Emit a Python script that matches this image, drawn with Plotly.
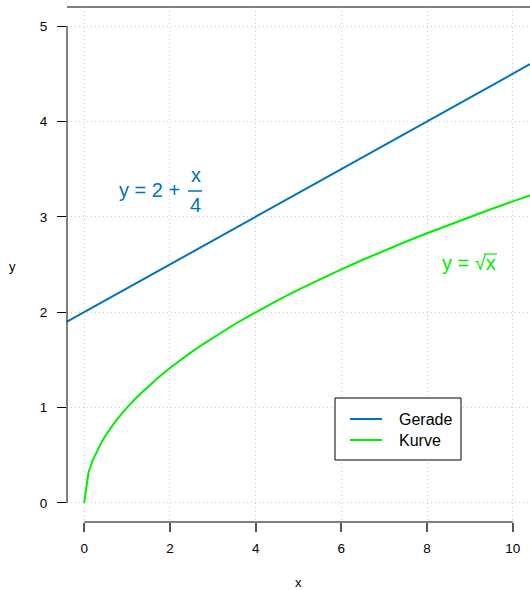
import plotly.graph_objects as go

# Data
line_x = [-0.4, 10.4]
line_y = [1.9, 4.6]

curve_x = [0, 0.1, 0.2, 0.3, 0.4, 0.5, 0.6, 0.7, 0.8, 0.9, 1, 1.25, 1.5, 1.75, 2, 2.25,
           2.5, 2.75, 3, 3.25, 3.5, 3.75, 4, 4.5, 5, 5.5, 6, 6.5, 7, 7.5, 8, 8.5, 9,
           9.5, 10, 10.4]
curve_y = [0, 0.316, 0.447, 0.548, 0.632, 0.707, 0.775, 0.837, 0.894, 0.949, 1.0, 1.118,
           1.225, 1.323, 1.414, 1.5, 1.581, 1.658, 1.732, 1.803, 1.871, 1.936, 2.0, 2.121,
           2.236, 2.345, 2.449, 2.55, 2.646, 2.739, 2.828, 2.915, 3.0, 3.082, 3.162, 3.225]

x_ticks = [0, 2, 4, 6, 8, 10]
y_ticks = [0, 1, 2, 3, 4, 5]
names = ["Gerade", "Kurve"]
colors = ["#0072BD", "#00EE00"]

FONT = "Liberation Sans, Arial, sans-serif"

fig = go.Figure()
fig.add_trace(go.Scatter(x=line_x, y=line_y, mode="lines", name=names[0],
                         line=dict(color=colors[0], width=2), showlegend=False))
fig.add_trace(go.Scatter(x=curve_x, y=curve_y, mode="lines", name=names[1],
                         line=dict(color=colors[1], width=2), showlegend=False))

W, H = 530, 590
L, R, T, B = 67, 0, 7, 68
pw, ph = W - L - R, H - T - B

def px(xp):
    return (xp - L) / pw

def py(yp):
    return (H - B - yp) / ph

shapes = []
# y axis line (0..5)
shapes.append(dict(type="line", xref="paper", yref="y", x0=0, x1=0, y0=0, y1=5,
                   line=dict(color="black", width=1)))
# x axis line (0..10)
shapes.append(dict(type="line", xref="x", yref="paper", x0=0, x1=10, y0=0, y1=0,
                   line=dict(color="#555555", width=1.5)))
# top line
shapes.append(dict(type="line", xref="paper", yref="paper", x0=0, x1=1, y0=1, y1=1,
                   line=dict(color="#555555", width=1.5)))
# legend box
shapes.append(dict(type="rect", xref="paper", yref="paper", x0=px(335), x1=px(461),
                   y0=py(460), y1=py(398), line=dict(color="black", width=1),
                   fillcolor="white", layer="above"))
for i, yy in enumerate([419, 440]):
    shapes.append(dict(type="line", xref="paper", yref="paper", x0=px(350), x1=px(382),
                       y0=py(yy), y1=py(yy), line=dict(color=colors[i], width=2)))
# fraction bar
shapes.append(dict(type="line", xref="paper", yref="paper", x0=px(188), x1=px(202),
                   y0=py(191), y1=py(191), line=dict(color=colors[0], width=1.5)))
# sqrt overline
shapes.append(dict(type="line", xref="paper", yref="paper", x0=px(484), x1=px(497),
                   y0=py(254), y1=py(254), line=dict(color=colors[1], width=1.2)))

annotations = []
for i, yy in enumerate([419, 440]):
    annotations.append(dict(text=names[i], xref="paper", yref="paper", x=px(397), y=py(yy),
                            xanchor="left", yanchor="middle", showarrow=False,
                            font=dict(size=16, color="black", family=FONT)))
annotations.append(dict(text="y = 2 +", xref="paper", yref="paper", x=px(182), y=py(190),
                        xanchor="right", yanchor="middle", showarrow=False,
                        font=dict(size=20, color=colors[0], family=FONT)))
annotations.append(dict(text="x", xref="paper", yref="paper", x=px(195.5), y=py(175),
                        xanchor="center", yanchor="middle", showarrow=False,
                        font=dict(size=20, color=colors[0], family=FONT)))
annotations.append(dict(text="4", xref="paper", yref="paper", x=px(195), y=py(205),
                        xanchor="center", yanchor="middle", showarrow=False,
                        font=dict(size=20, color=colors[0], family=FONT)))
annotations.append(dict(text="y = √x", xref="paper", yref="paper", x=px(497.5), y=py(263),
                        xanchor="right", yanchor="middle", showarrow=False,
                        font=dict(size=20, color=colors[1], family=FONT)))
# axis titles
annotations.append(dict(text="x", xref="paper", yref="paper", x=px(298), y=py(582),
                        xanchor="center", yanchor="middle", showarrow=False,
                        font=dict(size=13, color="black", family=FONT)))
annotations.append(dict(text="y", xref="paper", yref="paper", x=px(12), y=py(266),
                        xanchor="center", yanchor="middle", showarrow=False,
                        font=dict(size=13, color="black", family=FONT)))

fig.update_layout(
    width=W, height=H,
    margin=dict(l=L, r=R, t=T, b=B, pad=0),
    paper_bgcolor="white", plot_bgcolor="white",
    font=dict(family=FONT, size=13, color="black"),
    shapes=shapes, annotations=annotations, showlegend=False,
)
fig.update_xaxes(range=[-0.4, 10.4], tickvals=x_ticks, ticktext=[str(v) for v in x_ticks],
                 showline=False, zeroline=False, showgrid=True, gridcolor="#cccccc",
                 griddash="1px,3px", gridwidth=1, ticks="outside", ticklen=9, tickwidth=1.5,
                 tickcolor="#555555", tickfont=dict(size=13.5, color="black"),
                 ticklabelstandoff=5)
fig.update_yaxes(range=[-0.2, 5.2], tickvals=y_ticks, ticktext=[str(v) for v in y_ticks],
                 showline=False, zeroline=False, showgrid=True, gridcolor="#cccccc",
                 griddash="1px,3px", gridwidth=1, ticks="outside", ticklen=9, tickwidth=1,
                 tickcolor="black", tickfont=dict(size=13.5, color="black"),
                 ticklabelstandoff=7)

fig.write_html("out.html")
